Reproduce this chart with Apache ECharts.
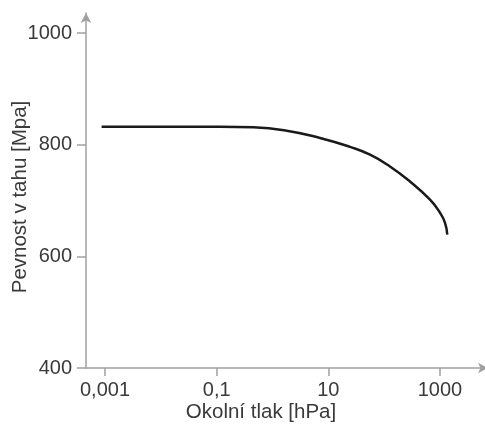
<!DOCTYPE html>
<html>
<head>
<meta charset="utf-8">
<script src="https://cdn.jsdelivr.net/npm/echarts@6/dist/echarts.min.js"></script>
<style>
html,body{margin:0;padding:0;background:#fff;}
#chart{width:485px;height:424px;}
</style>
</head>
<body>
<div id="chart"></div>
<script>
// Data
var pressure = [0.00087, 0.01, 0.115, 0.454, 1.8, 7.1, 24.5, 55.9, 127, 290, 663, 1000, 1230, 1352];
var strength = [832, 832, 832, 831, 825, 812, 796, 782, 761, 734, 701.5, 678, 660, 639];
var xTicks = [0.001, 0.1, 10, 1000];
var yTicks = [400, 600, 800, 1000];
var xName = 'Okolní tlak [hPa]';
var yName = 'Pevnost v tahu [Mpa]';

var points = pressure.map(function (p, i) { return [p, strength[i]]; });
var font = 'Liberation Sans, Arial, sans-serif';
var axisColor = '#a0a0a0';
var textColor = '#3a3a3a';

var chart = echarts.init(document.getElementById('chart'), null, {renderer: 'canvas'});
chart.setOption({
  animation: false,
  grid: {left: 86, right: -3, top: 13, bottom: 56, containLabel: false, outerBoundsMode: 'none'},
  xAxis: {
    type: 'log',
    logBase: 10,
    min: 0.000457,
    max: 7244,
    name: xName,
    nameLocation: 'middle',
    nameGap: 34,
    nameMoveOverlap: false,
    nameTextStyle: {fontSize: 20.5, color: textColor, fontFamily: font, padding: [0, 52, 0, 0]},
    axisLine: {show: true, lineStyle: {color: axisColor, width: 1.5}, symbol: ['none', 'arrow'], symbolSize: [8, 10]},
    axisTick: {show: true, length: 8, lineStyle: {color: axisColor, width: 1.5}, customValues: xTicks},
    axisLabel: {
      fontSize: 20, color: textColor, fontFamily: font, margin: 12,
      customValues: xTicks,
      formatter: function (v) { return String(v).replace('.', ','); }
    },
    splitLine: {show: false},
    minorTick: {show: false}
  },
  yAxis: {
    type: 'value',
    min: 400,
    max: 1035.8,
    name: yName,
    nameLocation: 'middle',
    nameGap: 55,
    nameRotate: 90,
    nameMoveOverlap: false,
    nameTextStyle: {fontSize: 20.5, color: textColor, fontFamily: font, padding: [0, 13, 0, 0]},
    axisLine: {show: true, lineStyle: {color: axisColor, width: 1.5}, symbol: ['none', 'arrow'], symbolSize: [8, 10]},
    axisTick: {show: true, length: 9, lineStyle: {color: axisColor, width: 1.5}, customValues: yTicks},
    axisLabel: {
      fontSize: 20, color: textColor, fontFamily: font, margin: 14, customValues: yTicks,
      formatter: function (v) { return String(v); }
    },
    splitLine: {show: false}
  },
  series: [{
    type: 'line',
    data: points,
    smooth: 0.5,
    symbol: 'none',
    lineStyle: {color: '#1a1a1a', width: 2.5}
  }]
});
</script>
</body>
</html>
